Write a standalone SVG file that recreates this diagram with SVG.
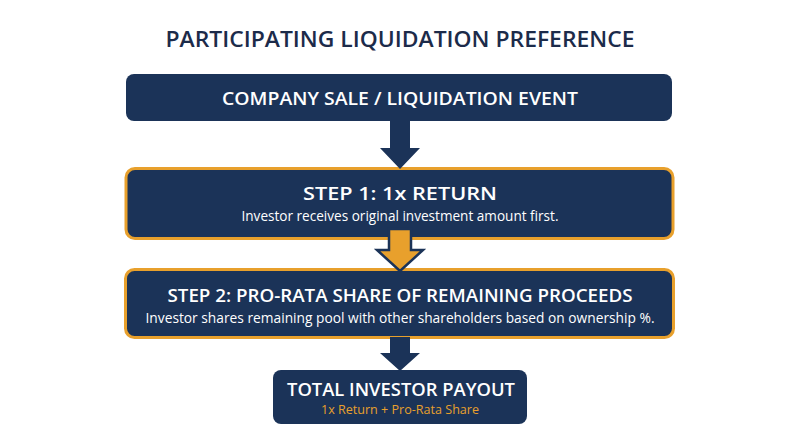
<svg xmlns="http://www.w3.org/2000/svg" width="800" height="447" viewBox="0 0 800 447">
<style>
.h{font-family:"Open Sans","Liberation Sans",sans-serif;font-weight:600;fill:#ffffff;text-anchor:middle}
.s{font-family:"Open Sans","Liberation Sans",sans-serif;font-weight:400;fill:#ffffff;text-anchor:middle}
.box{fill:#1b3358}
.obox{fill:#1b3358;stroke:#e8a02c;stroke-width:3}
.na{fill:#1b3358}
.oa{fill:#e8a02c;stroke:#1b3358;stroke-width:2.5;stroke-linejoin:miter}
</style>
<rect width="800" height="447" fill="#ffffff"/>
<text x="400" y="47" class="h" style="fill:#1c2b4a" font-size="21" textLength="469" lengthAdjust="spacingAndGlyphs">PARTICIPATING LIQUIDATION PREFERENCE</text>
<g id="node-sale">
<rect class="box" x="126" y="74" width="546" height="47" rx="8"/>
<text x="400" y="105" class="h" font-size="18" textLength="356" lengthAdjust="spacingAndGlyphs">COMPANY SALE / LIQUIDATION EVENT</text>
</g>
<g id="node-step1">
<rect class="obox" x="126" y="168.5" width="547" height="70" rx="9"/>
<text x="400" y="200" class="h" font-size="18" textLength="194" lengthAdjust="spacingAndGlyphs">STEP 1: 1x RETURN</text>
<text x="400" y="221" class="s" font-size="14" textLength="317" lengthAdjust="spacingAndGlyphs">Investor receives original investment amount first.</text>
</g>
<g id="node-step2">
<rect class="obox" x="125.5" y="269.5" width="548" height="68" rx="9"/>
<text x="400" y="302" class="h" font-size="18" textLength="465" lengthAdjust="spacingAndGlyphs">STEP 2: PRO-RATA SHARE OF REMAINING PROCEEDS</text>
<text x="400" y="323" class="s" font-size="14" textLength="509" lengthAdjust="spacingAndGlyphs">Investor shares remaining pool with other shareholders based on ownership %.</text>
</g>
<g id="node-total">
<rect class="box" x="273" y="370" width="254" height="54" rx="8"/>
<text x="401" y="396" class="h" font-size="18" textLength="228" lengthAdjust="spacingAndGlyphs">TOTAL INVESTOR PAYOUT</text>
<text x="400" y="414" class="s" style="fill:#e8a02c" font-size="13" textLength="158" lengthAdjust="spacingAndGlyphs">1x Return + Pro-Rata Share</text>
</g>
<g id="connectors">
<path class="na" d="M390,120 H410 V148 H420 L400,169 L380,148 H390 Z"/>
<path class="oa" d="M389,229 H411 V250 H423 L400,271 L377,250 H389 Z"/>
<path class="na" d="M390,337 H410 V353 H420 L400,371 L380,353 H390 Z"/>
</g>
</svg>
